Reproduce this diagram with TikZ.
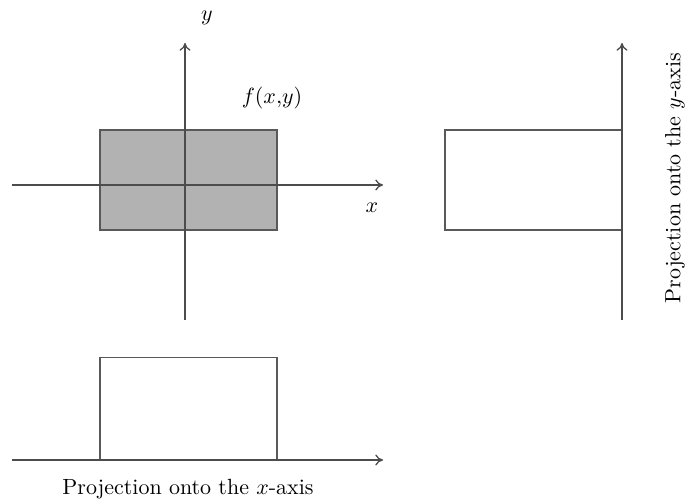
\documentclass[tikz,border=0pt]{standalone}
\usetikzlibrary{arrows.meta}
\tikzset{
  axis/.style={draw=black!70, line width=0.6pt, -{To[length=3.5pt,width=5pt]}},
  box/.style={draw=black!65, line width=0.6pt, minimum width=80.5pt, minimum height=45.5pt, inner sep=0pt, outer sep=0pt},
  lbl/.style={font=\normalsize, inner sep=1pt}
}
\begin{document}
\begin{tikzpicture}[x=0.455pt, y=-0.455pt]
    \useasboundingbox (0,0) rectangle (685,501);

    % Function in the plane (top left)
    \node[box, fill=black!30] (f) at (188.5,180) {};
    \coordinate (xs) at (12,185);
    \coordinate (xe) at (383,185);
    \coordinate (ys) at (185,320);
    \coordinate (ye) at (185,43);
    \draw[axis] (xs) -- (xe);
    \draw[axis] (ys) -- (ye);
    \node[lbl] (ylbl) at (207,18) {$y$};
    \node[lbl] (xlbl) at (372,208) {$x$};
    \node[lbl] (flbl) at (272,98) {$f(x{,}y)$};

    % Projection onto the y-axis (right)
    \node[box] (py) at (533.5,180) {};
    \coordinate (pys) at (622,320);
    \coordinate (pye) at (622,43);
    \draw[axis] (pys) -- (pye);
    \node[lbl, rotate=90] (pylbl) at (675,178) {Projection onto the $y$-axis};

    % Projection onto the x-axis (bottom)
    \node[box, minimum height=46.4pt] (px) at (188.5,408.5) {};
    \coordinate (pxs) at (12,460);
    \coordinate (pxe) at (383,460);
    \draw[axis] (pxs) -- (pxe);
    \node[lbl] (pxlbl) at (188,489) {Projection onto the $x$-axis};
\end{tikzpicture}
\end{document}
